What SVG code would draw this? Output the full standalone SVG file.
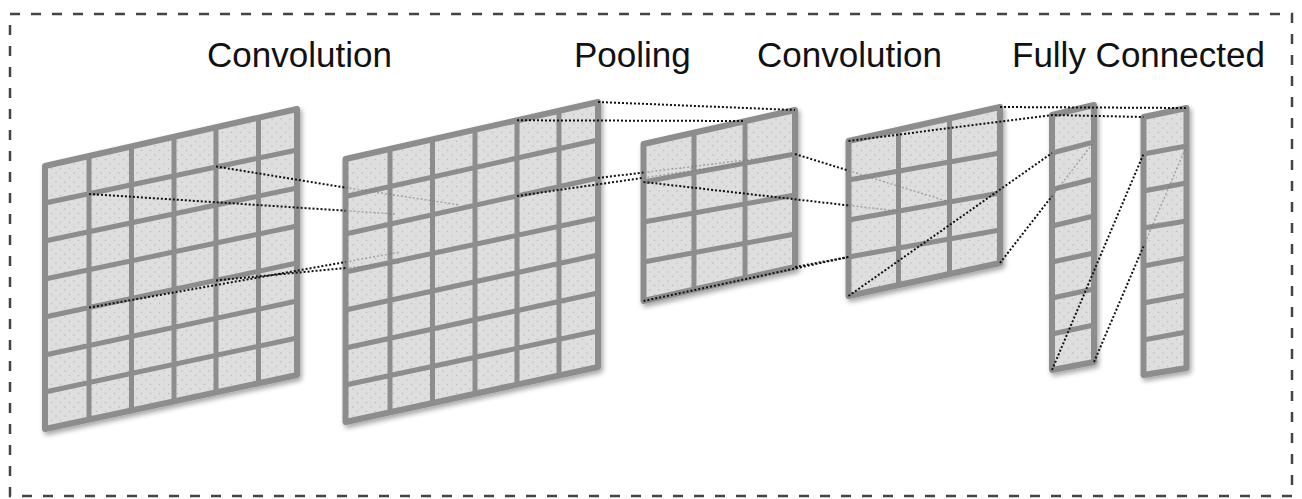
<svg xmlns="http://www.w3.org/2000/svg" width="1302" height="499" viewBox="0 0 1302 499">
<style>
.frame{fill:none;stroke:#444;stroke-width:2.5;stroke-dasharray:10 11}
.lbl{font-family:"Liberation Sans",Arial,sans-serif;font-size:35px;fill:#111}
.cell{fill:url(#dots);stroke:#8d8d8d;stroke-width:6;stroke-linejoin:round;filter:url(#sh)}
.lines{fill:none;stroke:#8d8d8d;stroke-width:5}
.dk{fill:none;stroke:#111;stroke-width:2;stroke-dasharray:2 2}
.ft{fill:none;stroke:#777;stroke-width:1.5;stroke-dasharray:2 2;opacity:.55}
</style>
<defs>
<pattern id="dots" width="9" height="9" patternUnits="userSpaceOnUse">
<rect width="9" height="9" fill="#dedede"/>
<circle cx="2" cy="2" r="0.7" fill="#b8b8b8"/>
<circle cx="6.5" cy="6.5" r="0.7" fill="#b8b8b8"/>
</pattern>
<filter id="sh" x="-20%" y="-20%" width="140%" height="140%">
<feDropShadow dx="2" dy="3" stdDeviation="2.5" flood-color="#000" flood-opacity="0.35"/>
</filter>
</defs>
<rect width="1302" height="499" fill="#fff"/>
<rect class="frame" x="10" y="14" width="1282" height="482"/>
<g id="labels">
<text class="lbl" x="207" y="67">Convolution</text>
<text class="lbl" x="574" y="67">Pooling</text>
<text class="lbl" x="757" y="67">Convolution</text>
<text class="lbl" x="1012" y="67">Fully Connected</text>
</g>
<g id="grid1">
<polygon class="cell" points="45,166 297,109 297,375 45,429"/>
<path class="lines" d="M45,203L297,150M45,241L297,188M45,279L297,226M45,317L297,263M45,355L297,301M45,392L297,338M89,156L89,419.6M131.5,146.4L131.5,410.5M174,136.8L174,401.4M216,127.3L216,392.4M258.5,117.7L258.5,383.2"/>
</g>
<g id="grid2">
<polygon class="cell" points="345.5,159 598,102 598,367 345.5,422"/>
<path class="lines" d="M345.5,196.5L598,140M345.5,234L598,178M345.5,272L598,218M345.5,310L598,255M345.5,348L598,293M345.5,385L598,331M390,149L390,412.3M432.5,139.4L432.5,403.1M475,129.8L475,393.8M517,120.3L517,384.6M559,110.8L559,375.5"/>
</g>
<g id="grid3">
<polygon class="cell" points="643.5,144 795,110 795,267 643.5,301"/>
<path class="lines" d="M643.5,182L795,154M643.5,222L795,195M643.5,262L795,234M694,132.7L694,289.7M745,121.2L745,278.2"/>
</g>
<g id="grid4">
<polygon class="cell" points="848.5,141 1000,107 1000,263 848.5,296"/>
<path class="lines" d="M848.5,180L1000,153M848.5,220L1000,193M848.5,257L1000,230M898.5,129.8L898.5,285.1M949.5,118.3L949.5,274"/>
</g>
<g id="fc1">
<polygon class="cell" points="1052,115 1094,105 1094,362 1052,370"/>
<path class="lines" d="M1052,153L1094,142M1052,189.5L1094,179M1052,226L1094,216M1052,262L1094,253M1052,298L1094,289M1052,334L1094,325"/>
</g>
<g id="fc2">
<polygon class="cell" points="1143.5,117 1186.5,108 1186.5,368 1143.5,375"/>
<path class="lines" d="M1143.5,154L1186.5,146M1143.5,191L1186.5,183M1143.5,228L1186.5,221M1143.5,266L1186.5,258M1143.5,303L1186.5,295M1143.5,340L1186.5,332"/>
</g>
<g id="connectors">
<path class="dk" d="M216,166.5L345.5,187.6M89,194L345.5,210.7M89,307.6L345.5,262M216,280.4L345.5,268"/>
<path class="ft" d="M345.5,187.6L460,205M345.5,210.7L395,214M345.5,262L400,252M345.5,268L400,263"/>
<path class="dk" d="M598,102L795,110M517,120.3L745,121M517,196L643.5,177.8M598,178L643.5,172.5"/>
<path class="ft" d="M643.5,177.8L745,163M643.5,172.5L795,154"/>
<path class="dk" d="M795,154L848.5,170.6M643.5,182L848.5,205.4M643.5,301L848.5,257M795,267L848.5,257"/>
<path class="ft" d="M848.5,170.6L949.5,202M848.5,205.4L898.5,211.1"/>
<path class="dk" d="M1000,107L1186.5,108M848.5,141L1052,115L1143.5,117M848.5,296L1052,153M1000,263L1052,196.1M1052,370L1143.5,154M1094,362L1143.5,246.4"/>
<path class="ft" d="M1052,196.1L1094,142M1143.5,246.4L1186.5,146"/>
</g>
</svg>
